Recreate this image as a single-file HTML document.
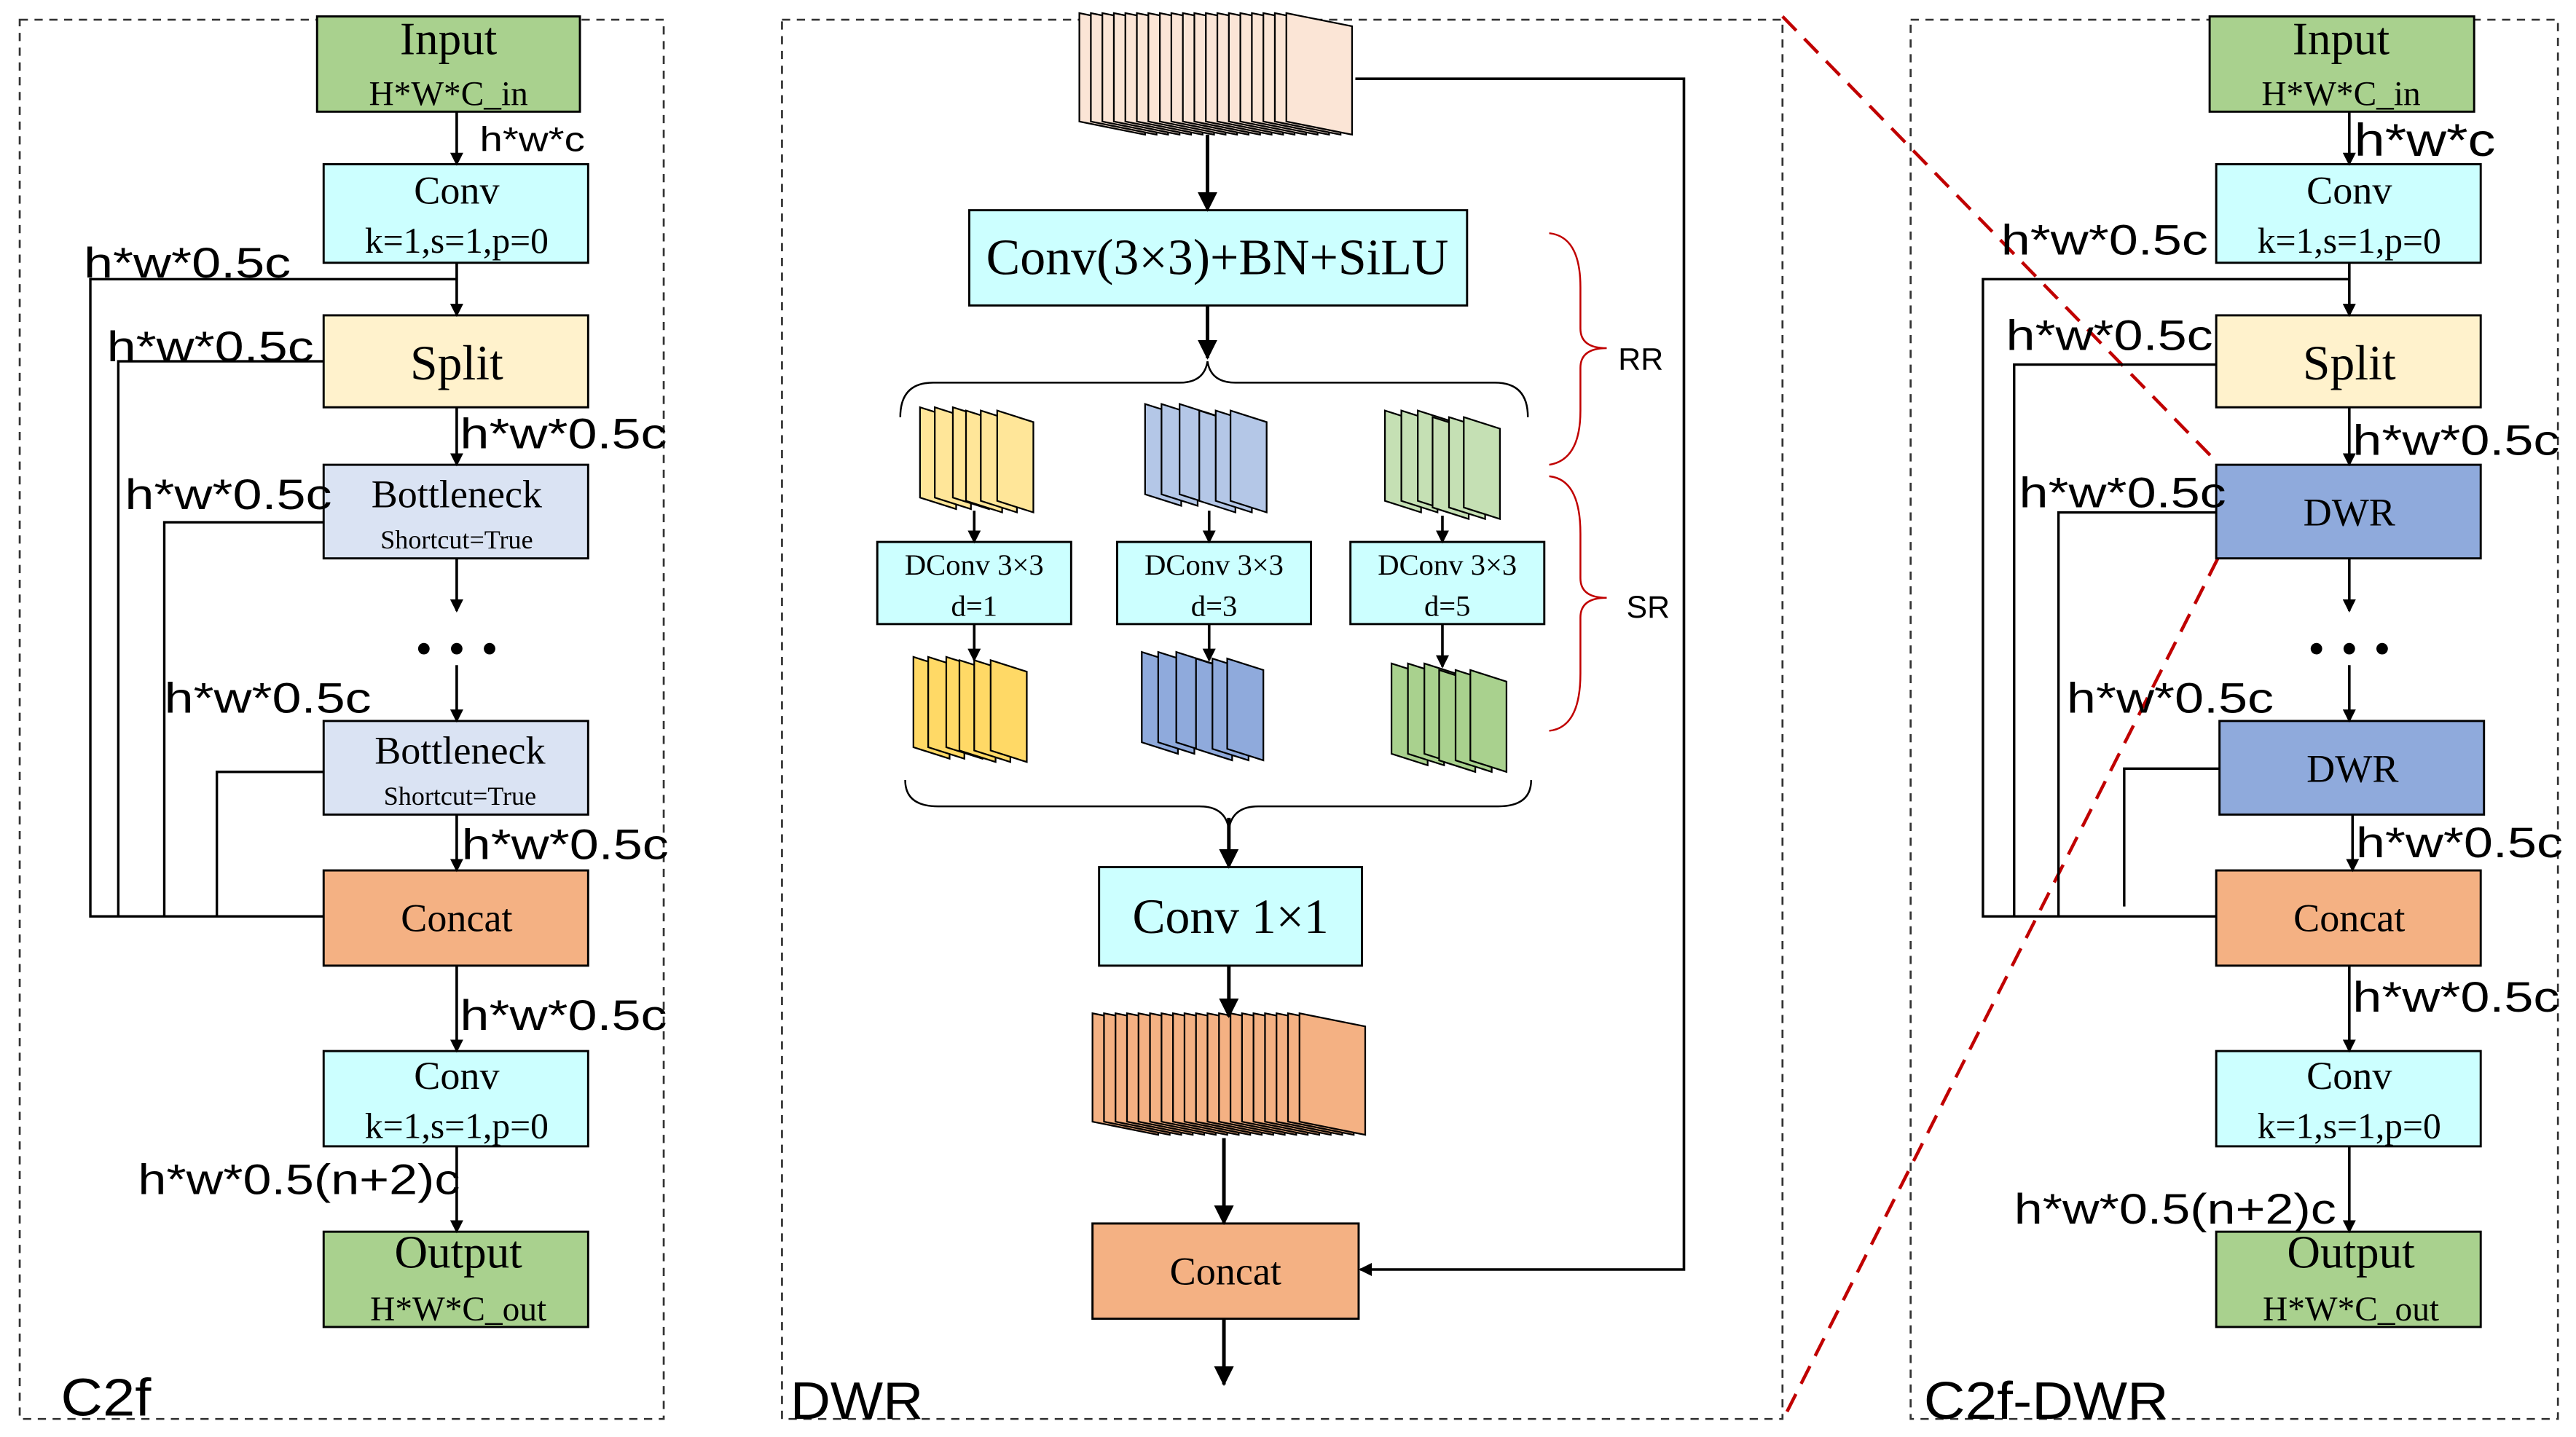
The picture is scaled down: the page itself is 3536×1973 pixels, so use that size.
<!DOCTYPE html>
<html><head><style>html,body{margin:0;padding:0;background:#fff}svg{display:block}</style></head>
<body>
<svg width="3536" height="1973" viewBox="0 0 1568 875" preserveAspectRatio="none" xmlns="http://www.w3.org/2000/svg">
<defs>
<marker id="ah" markerWidth="8" markerHeight="8" refX="7" refY="4" orient="auto" markerUnits="userSpaceOnUse"><path d="M0,0 L8,4 L0,8 z" fill="#000"/></marker>
<marker id="ah2" markerWidth="12" markerHeight="12" refX="11" refY="6" orient="auto" markerUnits="userSpaceOnUse"><path d="M0,0 L12,6 L0,12 z" fill="#000"/></marker>
<polygon id="s1" points="0,0 22,7 22,62 0,55" stroke="#000" stroke-width="1"/>
<polygon id="sb" points="0,0 40,8 40,74 0,66" stroke="#000" stroke-width="1"/>
</defs>
<g font-family="Liberation Serif, serif" fill="#000">
<g fill="none" stroke="#333" stroke-width="1.2" stroke-dasharray="5,4">
<rect x="12" y="12" width="392" height="852"/>
<rect x="476" y="12" width="609" height="852"/>
<rect x="1163" y="12" width="394" height="852"/>
</g>
<g font-family="Liberation Sans, sans-serif" font-size="32">
<text x="37" y="862" textLength="55" lengthAdjust="spacingAndGlyphs">C2f</text><text x="481" y="864" textLength="81" lengthAdjust="spacingAndGlyphs">DWR</text><text x="1171" y="864" textLength="149" lengthAdjust="spacingAndGlyphs">C2f-DWR</text>
</g>
<g stroke="#c00000" stroke-width="2" stroke-dasharray="12,7" fill="none">
<line x1="1085" y1="10" x2="1350" y2="282"/><line x1="1350" y1="340" x2="1085" y2="865"/>
</g>

<g stroke="#000" stroke-width="1.3">
<rect x="193" y="10" width="160" height="58" fill="#a9d18e"/>
<rect x="197" y="100" width="161" height="60" fill="#ccffff"/>
<rect x="197" y="192" width="161" height="56" fill="#fff2cc"/>
<rect x="197" y="283" width="161" height="57" fill="#dae3f3"/>
<rect x="197" y="439" width="161" height="57" fill="#dae3f3"/>
<rect x="197" y="530" width="161" height="58" fill="#f4b183"/>
<rect x="197" y="640" width="161" height="58" fill="#ccffff"/>
<rect x="197" y="750" width="161" height="58" fill="#a9d18e"/>

<rect x="1345" y="10" width="161" height="58" fill="#a9d18e"/>
<rect x="1349" y="100" width="161" height="60" fill="#ccffff"/>
<rect x="1349" y="192" width="161" height="56" fill="#fff2cc"/>
<rect x="1349" y="283" width="161" height="57" fill="#8faadc"/>
<rect x="1351" y="439" width="161" height="57" fill="#8faadc"/>
<rect x="1349" y="530" width="161" height="58" fill="#f4b183"/>
<rect x="1349" y="640" width="161" height="58" fill="#ccffff"/>
<rect x="1349" y="750" width="161" height="58" fill="#a9d18e"/>
</g>
<g stroke="#000" stroke-width="1.6" fill="none" marker-end="url(#ah)">
<line x1="278" y1="68" x2="278" y2="100"/><line x1="278" y1="160" x2="278" y2="192"/>
<line x1="278" y1="248" x2="278" y2="283"/><line x1="278" y1="340" x2="278" y2="372"/>
<line x1="278" y1="405" x2="278" y2="439"/><line x1="278" y1="496" x2="278" y2="530"/>
<line x1="278" y1="588" x2="278" y2="640"/><line x1="278" y1="698" x2="278" y2="750"/>
<line x1="1430" y1="68" x2="1430" y2="100"/><line x1="1430" y1="160" x2="1430" y2="192"/>
<line x1="1430" y1="248" x2="1430" y2="283"/><line x1="1430" y1="340" x2="1430" y2="372"/>
<line x1="1430" y1="405" x2="1430" y2="439"/><line x1="1432" y1="496" x2="1432" y2="530"/>
<line x1="1430" y1="588" x2="1430" y2="640"/><line x1="1430" y1="698" x2="1430" y2="750"/>
</g>
<g stroke="#000" stroke-width="1.5" fill="none">
<polyline points="278,170 55,170 55,558 197,558"/>
<polyline points="197,220 72,220 72,558"/>
<polyline points="197,318 100,318 100,558"/>
<polyline points="197,470 132,470 132,558"/>
<polyline points="1430,170 1207,170 1207,558 1349,558"/>
<polyline points="1349,222 1226,222 1226,558"/>
<polyline points="1349,312 1253,312 1253,558"/>
<polyline points="1351,468 1293,468 1293,552"/>
</g>
<g>
<circle cx="258" cy="395" r="3.5"/><circle cx="278" cy="395" r="3.5"/><circle cx="298" cy="395" r="3.5"/>
<circle cx="1410" cy="395" r="3.5"/><circle cx="1430" cy="395" r="3.5"/><circle cx="1450" cy="395" r="3.5"/>
</g>
<g text-anchor="middle">
<text x="273" y="33" font-size="28">Input</text><text x="273" y="64" font-size="21">H*W*C_in</text>
<text x="278" y="124" font-size="24">Conv</text><text x="278" y="154" font-size="22">k=1,s=1,p=0</text>
<text x="278" y="231" font-size="30">Split</text>
<text x="278" y="309" font-size="24">Bottleneck</text><text x="278" y="334" font-size="16">Shortcut=True</text>
<text x="280" y="465" font-size="24">Bottleneck</text><text x="280" y="490" font-size="16">Shortcut=True</text>
<text x="278" y="567" font-size="24">Concat</text>
<text x="278" y="663" font-size="24">Conv</text><text x="278" y="693" font-size="22">k=1,s=1,p=0</text>
<text x="279" y="772" font-size="28">Output</text><text x="279" y="804" font-size="21">H*W*C_out</text>

<text x="1425" y="33" font-size="28">Input</text><text x="1425" y="64" font-size="21">H*W*C_in</text>
<text x="1430" y="124" font-size="24">Conv</text><text x="1430" y="154" font-size="22">k=1,s=1,p=0</text>
<text x="1430" y="231" font-size="30">Split</text>
<text x="1430" y="320" font-size="24">DWR</text>
<text x="1432" y="476" font-size="24">DWR</text>
<text x="1430" y="567" font-size="24">Concat</text>
<text x="1430" y="663" font-size="24">Conv</text><text x="1430" y="693" font-size="22">k=1,s=1,p=0</text>
<text x="1431" y="772" font-size="28">Output</text><text x="1431" y="804" font-size="21">H*W*C_out</text>
</g>
<g font-family="Liberation Sans, sans-serif" font-size="26" lengthAdjust="spacingAndGlyphs">
<text x="292" y="92" font-size="21" textLength="64" lengthAdjust="spacingAndGlyphs">h*w*c</text>
<text x="51" y="169" textLength="126" lengthAdjust="spacingAndGlyphs">h*w*0.5c</text>
<text x="65" y="220" textLength="126" lengthAdjust="spacingAndGlyphs">h*w*0.5c</text>
<text x="280" y="273" textLength="126" lengthAdjust="spacingAndGlyphs">h*w*0.5c</text>
<text x="76" y="310" textLength="126" lengthAdjust="spacingAndGlyphs">h*w*0.5c</text>
<text x="100" y="434" textLength="126" lengthAdjust="spacingAndGlyphs">h*w*0.5c</text>
<text x="281" y="523" textLength="126" lengthAdjust="spacingAndGlyphs">h*w*0.5c</text>
<text x="280" y="627" textLength="126" lengthAdjust="spacingAndGlyphs">h*w*0.5c</text>
<text x="84" y="727" textLength="196" lengthAdjust="spacingAndGlyphs">h*w*0.5(n+2)c</text>

<text x="1433" y="95" font-size="28" textLength="86" lengthAdjust="spacingAndGlyphs">h*w*c</text>
<text x="1218" y="155" textLength="126" lengthAdjust="spacingAndGlyphs">h*w*0.5c</text>
<text x="1221" y="213" textLength="126" lengthAdjust="spacingAndGlyphs">h*w*0.5c</text>
<text x="1432" y="277" textLength="126" lengthAdjust="spacingAndGlyphs">h*w*0.5c</text>
<text x="1229" y="309" textLength="126" lengthAdjust="spacingAndGlyphs">h*w*0.5c</text>
<text x="1258" y="434" textLength="126" lengthAdjust="spacingAndGlyphs">h*w*0.5c</text>
<text x="1434" y="522" textLength="126" lengthAdjust="spacingAndGlyphs">h*w*0.5c</text>
<text x="1432" y="616" textLength="126" lengthAdjust="spacingAndGlyphs">h*w*0.5c</text>
<text x="1226" y="745" textLength="196" lengthAdjust="spacingAndGlyphs">h*w*0.5(n+2)c</text>
</g>

<g fill="#fbe5d6">
<use href="#sb" x="657" y="8"/><use href="#sb" x="664" y="8"/><use href="#sb" x="671" y="8"/><use href="#sb" x="678" y="8"/><use href="#sb" x="685" y="8"/><use href="#sb" x="692" y="8"/><use href="#sb" x="699" y="8"/><use href="#sb" x="706" y="8"/><use href="#sb" x="713" y="8"/><use href="#sb" x="720" y="8"/><use href="#sb" x="727" y="8"/><use href="#sb" x="734" y="8"/><use href="#sb" x="741" y="8"/><use href="#sb" x="748" y="8"/><use href="#sb" x="755" y="8"/><use href="#sb" x="762" y="8"/><use href="#sb" x="769" y="8"/><use href="#sb" x="776" y="8"/><use href="#sb" x="783" y="8"/>
</g>
<g fill="#f4b183">
<use href="#sb" x="665" y="617"/><use href="#sb" x="672" y="617"/><use href="#sb" x="679" y="617"/><use href="#sb" x="686" y="617"/><use href="#sb" x="693" y="617"/><use href="#sb" x="700" y="617"/><use href="#sb" x="707" y="617"/><use href="#sb" x="714" y="617"/><use href="#sb" x="721" y="617"/><use href="#sb" x="728" y="617"/><use href="#sb" x="735" y="617"/><use href="#sb" x="742" y="617"/><use href="#sb" x="749" y="617"/><use href="#sb" x="756" y="617"/><use href="#sb" x="763" y="617"/><use href="#sb" x="770" y="617"/><use href="#sb" x="777" y="617"/><use href="#sb" x="784" y="617"/><use href="#sb" x="791" y="617"/>
</g>
<g fill="#ffe699">
<use href="#s1" x="560" y="248"/><use href="#s1" x="569" y="248"/><use href="#s1" x="580" y="248"/><use href="#s1" x="588" y="250"/><use href="#s1" x="597" y="250"/><use href="#s1" x="607" y="250"/>
</g>
<g fill="#ffd966">
<use href="#s1" x="556" y="400"/><use href="#s1" x="565" y="400"/><use href="#s1" x="576" y="400"/><use href="#s1" x="584" y="402"/><use href="#s1" x="593" y="402"/><use href="#s1" x="603" y="402"/>
</g>
<g fill="#b4c7e7">
<use href="#s1" x="697" y="246"/><use href="#s1" x="707" y="246"/><use href="#s1" x="718" y="246"/><use href="#s1" x="730" y="250"/><use href="#s1" x="740" y="250"/><use href="#s1" x="749" y="250"/>
</g>
<g fill="#8faadc">
<use href="#s1" x="695" y="397"/><use href="#s1" x="705" y="397"/><use href="#s1" x="716" y="397"/><use href="#s1" x="728" y="401"/><use href="#s1" x="738" y="401"/><use href="#s1" x="747" y="401"/>
</g>
<g fill="#c5e0b4">
<use href="#s1" x="843" y="250"/><use href="#s1" x="853" y="250"/><use href="#s1" x="863" y="250"/><use href="#s1" x="872" y="254"/><use href="#s1" x="882" y="254"/><use href="#s1" x="891" y="254"/>
</g>
<g fill="#a9d18e">
<use href="#s1" x="847" y="404"/><use href="#s1" x="857" y="404"/><use href="#s1" x="867" y="404"/><use href="#s1" x="876" y="408"/><use href="#s1" x="886" y="408"/><use href="#s1" x="895" y="408"/>
</g>
<g stroke="#000" stroke-width="1.3">
<rect x="590" y="128" width="303" height="58" fill="#ccffff"/>
<rect x="534" y="330" width="118" height="50" fill="#ccffff"/>
<rect x="680" y="330" width="118" height="50" fill="#ccffff"/>
<rect x="822" y="330" width="118" height="50" fill="#ccffff"/>
<rect x="669" y="528" width="160" height="60" fill="#ccffff"/>
<rect x="665" y="745" width="162" height="58" fill="#f4b183"/>
</g>
<g stroke="#000" stroke-width="2.2" fill="none" marker-end="url(#ah2)">
<line x1="735" y1="82" x2="735" y2="128"/>
<line x1="735" y1="186" x2="735" y2="218"/>
<line x1="748" y1="498" x2="748" y2="528"/>
<line x1="748" y1="588" x2="748" y2="619"/>
<line x1="745" y1="693" x2="745" y2="745"/>
<line x1="745" y1="803" x2="745" y2="843"/>
</g>
<g stroke="#000" stroke-width="1.6" fill="none" marker-end="url(#ah)">
<line x1="593" y1="311" x2="593" y2="330"/><line x1="593" y1="380" x2="593" y2="402"/>
<line x1="736" y1="311" x2="736" y2="330"/><line x1="736" y1="380" x2="736" y2="402"/>
<line x1="878" y1="314" x2="878" y2="330"/><line x1="878" y1="380" x2="878" y2="406"/>
<polyline points="825,48 1025,48 1025,773 828,773"/>
</g>
<g stroke="#000" stroke-width="1.1" fill="none">
<path d="M548,254 Q548,233 568,233 L718,233 Q733,233 735,220 Q737,233 752,233 L910,233 Q930,233 930,254"/>
<path d="M551,475 Q551,491 571,491 L730,491 Q746,491 748,505 Q750,491 766,491 L912,491 Q932,491 932,475"/>
</g>
<g stroke="#c00000" stroke-width="1.1" fill="none">
<path d="M943,142 Q962,144 962,175 L962,200 Q962,212 978,212 Q962,212 962,224 L962,250 Q962,280 943,283"/>
<path d="M943,290 Q962,292 962,325 L962,352 Q962,364 978,364 Q962,364 962,376 L962,410 Q962,443 943,445"/>
</g>
<g font-family="Liberation Sans, sans-serif" font-size="19">
<text x="985" y="225">RR</text><text x="990" y="376">SR</text>
</g>
<g text-anchor="middle">
<text x="741" y="167" font-size="31">Conv(3×3)+BN+SiLU</text>
<text x="593" y="350" font-size="18">DConv 3×3</text><text x="593" y="375" font-size="18">d=1</text>
<text x="739" y="350" font-size="18">DConv 3×3</text><text x="739" y="375" font-size="18">d=3</text>
<text x="881" y="350" font-size="18">DConv 3×3</text><text x="881" y="375" font-size="18">d=5</text>
<text x="749" y="568" font-size="30">Conv 1×1</text>
<text x="746" y="782" font-size="24">Concat</text>
</g>
</g>
</svg>
</body></html>
